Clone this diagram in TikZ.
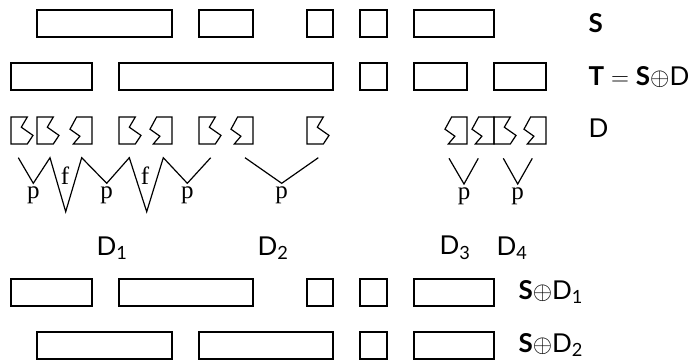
\documentclass[tikz,border=0pt]{standalone}
\usepackage{fontspec}
\setmainfont{Lato}
\newfontfamily\pfont{Liberation Serif}
\begin{document}
\begin{tikzpicture}[x=1pt,y=-1pt,line width=1.2pt,line join=miter,
  lbl/.style={font=\fontsize{26}{26}\selectfont,inner sep=0pt,anchor=west},
  dlbl/.style={font=\fontsize{26}{26}\selectfont,inner sep=0pt},
  plbl/.style={font=\pfont\fontsize{25}{25}\selectfont,inner sep=0pt},
  zig/.style={line width=1.2pt},
  lpiece/.pic={\draw (0,0) -- (16.3,0) -- (10.3,10.2) -- (22,18.4) -- (16.3,27) -- (0,27) -- cycle;},
  rpiece/.pic={\draw (0,0) -- (-15.4,0) -- (-22,12.2) -- (-12.1,19.2) -- (-18.7,27) -- (0,27) -- cycle;}]
\useasboundingbox (0,0) rectangle (698,360);
\newcommand\bx[3]{\draw (#1,#3) rectangle (#2,#3+27);}

% row S
\foreach \a/\b in {37/172, 199/253, 307/333, 360/387, 414/494} {\bx{\a}{\b}{10}}
\node[lbl] (lS) at (588,23) {\textbf{S}};

% row T
\foreach \a/\b in {11/92, 119/333, 360/387, 414/467, 494/546} {\bx{\a}{\b}{63}}
\node[lbl] (lT) at (588,77) {\textbf{T}$\;=\;$\textbf{S}$\oplus$D};

% row D: left-edge and right-edge pieces
\foreach \a in {11, 37, 119, 199, 307, 494} {\pic at (\a,117) {lpiece};}
\foreach \a in {92, 172, 253, 467, 494, 546} {\pic at (\a,117) {rpiece};}
\node[lbl] (lD) at (588,128) {D};

% D1 zigzag
\coordinate (a0) at (18.3,157.7);
\coordinate (p1) at (33.3,183.3);
\coordinate (a1) at (50,157.7);
\coordinate (f1) at (65.7,211.7);
\coordinate (a2) at (81.7,157.7);
\coordinate (p2) at (106.7,183.3);
\coordinate (a3) at (129.3,157.7);
\coordinate (f2) at (146.7,211.7);
\coordinate (a4) at (163.3,157.7);
\coordinate (p3) at (187.3,183.3);
\coordinate (a5) at (210.7,157.7);
\draw[zig] (a0) -- (p1) -- (a1) -- (f1) -- (a2) -- (p2) -- (a3) -- (f2) -- (a4) -- (p3) -- (a5);
% D2
\coordinate (b0) at (245,157.7);
\coordinate (p4) at (281.7,183.3);
\coordinate (b1) at (318.3,157.7);
\draw[zig] (b0) -- (p4) -- (b1);
% D3, D4
\coordinate (c0) at (449,158.3);
\coordinate (p5) at (464,184);
\coordinate (c1) at (478.3,158.3);
\draw[zig] (c0) -- (p5) -- (c1);
\coordinate (d0) at (503.3,158.3);
\coordinate (p6) at (517.7,184);
\coordinate (d1) at (532.3,158.3);
\draw[zig] (d0) -- (p6) -- (d1);

\foreach \v in {p1,p2,p3,p4,p5,p6} {\node[plbl,anchor=north] at ([yshift=-3pt]\v) {p};}
\node[plbl] (tf1) at (65,176) {f};
\node[plbl] (tf2) at (145,176) {f};

\node[dlbl] (D1) at (112,248) {D\textsubscript{1}};
\node[dlbl] (D2) at (273,248) {D\textsubscript{2}};
\node[dlbl] (D3) at (455,248) {D\textsubscript{3}};
\node[dlbl] (D4) at (512,248) {D\textsubscript{4}};

% S + D1
\foreach \a/\b in {11/92, 119/253, 307/333, 360/387, 414/494} {\bx{\a}{\b}{279}}
\node[lbl] (lS1) at (518,292) {\textbf{S}$\oplus$D\textsubscript{1}};

% S + D2
\foreach \a/\b in {37/172, 199/333, 360/387, 414/494} {\bx{\a}{\b}{332}}
\node[lbl] (lS2) at (518,345) {\textbf{S}$\oplus$D\textsubscript{2}};
\end{tikzpicture}
\end{document}
